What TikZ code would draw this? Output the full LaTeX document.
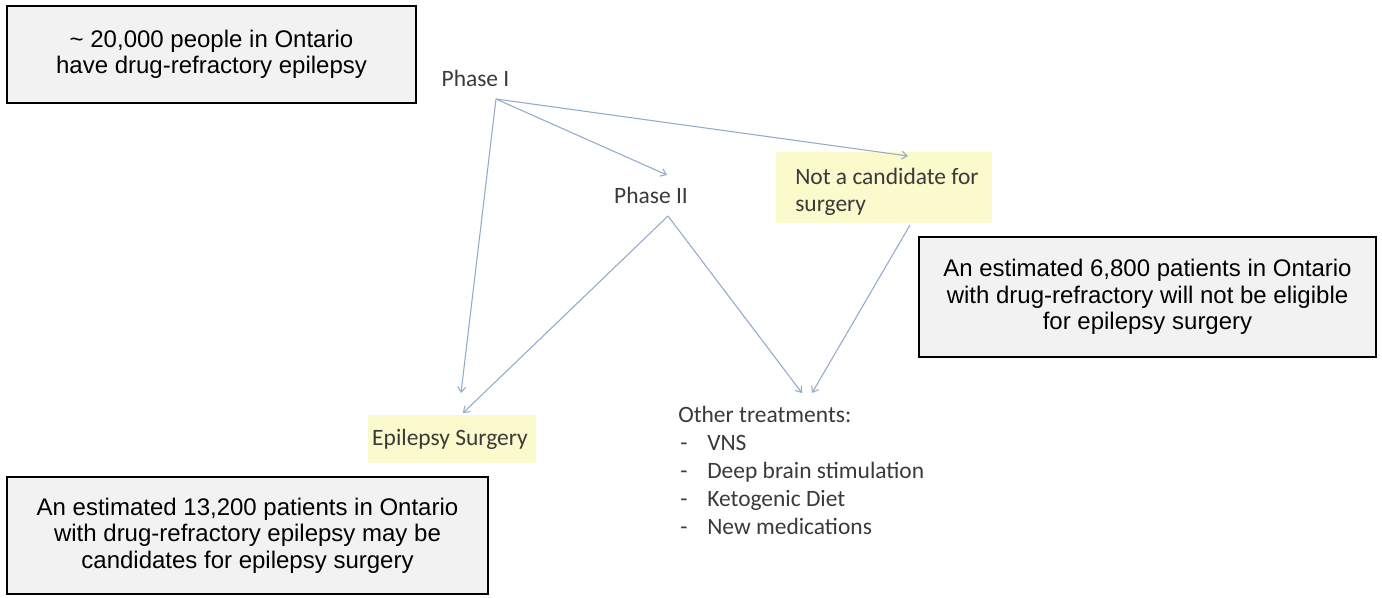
\documentclass[tikz,border=0pt]{standalone}
\usepackage{fontspec}
\setmainfont{Liberation Sans}
\newfontfamily\calfont{Carlito}
\usetikzlibrary{arrows.meta}
\definecolor{boxfill}{HTML}{F2F2F2}
\definecolor{hl}{HTML}{FAFACC}
\definecolor{arr}{HTML}{93AACB}
\definecolor{txt}{HTML}{3A3A3A}
\begin{document}
\begin{tikzpicture}[x=0.75pt,y=-0.75pt,
  infobox/.style={draw=black,line width=1.5pt,fill=boxfill,align=center,inner sep=0pt,
    font=\fontsize{18}{19.9}\selectfont},
  lbl/.style={font=\calfont\fontsize{17.6}{21}\selectfont,text=txt,inner sep=0pt},
  conn/.style={draw=arr,line width=0.8pt,-{Straight Barb[length=4pt,width=6pt]}}]
\useasboundingbox (0,0) rectangle (1382,597);
\fill[white] (0,0) rectangle (1382,597);
% info boxes
\node[infobox,minimum width=306.75pt,minimum height=72.75pt] (b1) at (211.5,54.5)
  {\~{} 20,000 people in Ontario\\have drug-refractory epilepsy};
\node[infobox,minimum width=342.75pt,minimum height=90pt] (b2) at (1147.5,297)
  {An estimated 6,800 patients in Ontario\\with drug-refractory will not be eligible\\for epilepsy surgery};
\node[infobox,minimum width=360.75pt,minimum height=87.75pt] (b3) at (247.5,535.5)
  {An estimated 13,200 patients in Ontario\\with drug-refractory epilepsy may be\\candidates for epilepsy surgery};
% highlights
\fill[hl] (776,152) rectangle (992,223);
\fill[hl] (368,415) rectangle (536,463);
% labels
\node[lbl,anchor=base] (p1) at (475.5,86) {Phase I};
\node[lbl,anchor=base] (p2) at (651,203) {Phase II};
\node[lbl,anchor=base west] (nc1) at (795,184) {Not a candidate for};
\node[lbl,anchor=base west] (nc2) at (795,211) {surgery};
\node[lbl,anchor=base] (es) at (450,445) {Epilepsy Surgery};
\node[lbl,anchor=base west] (ot) at (678,422) {Other treatments:};
\node[lbl,anchor=base west] (t1) at (680,450) {\makebox[20.25pt][l]{-}VNS};
\node[lbl,anchor=base west] (t2) at (680,478) {\makebox[20.25pt][l]{-}Deep brain stimulation};
\node[lbl,anchor=base west] (t3) at (680,506) {\makebox[20.25pt][l]{-}Ketogenic Diet};
\node[lbl,anchor=base west] (t4) at (680,534) {\makebox[20.25pt][l]{-}New medications};
% connector end points
\coordinate (p1out) at (496,99);
\coordinate (p2in) at (667,175);
\coordinate (p2out) at (668,216);
\coordinate (ncin) at (908,156);
\coordinate (ncout) at (910,225);
\coordinate (esin1) at (461,393);
\coordinate (esin2) at (463,413);
\coordinate (otin1) at (802,393);
\coordinate (otin2) at (812,393);
% connectors
\draw[conn] (p1out) -- (esin1);
\draw[conn] (p1out) -- (p2in);
\draw[conn] (p1out) -- (ncin);
\draw[conn] (p2out) -- (esin2);
\draw[conn] (p2out) -- (otin1);
\draw[conn] (ncout) -- (otin2);
\end{tikzpicture}
\end{document}
